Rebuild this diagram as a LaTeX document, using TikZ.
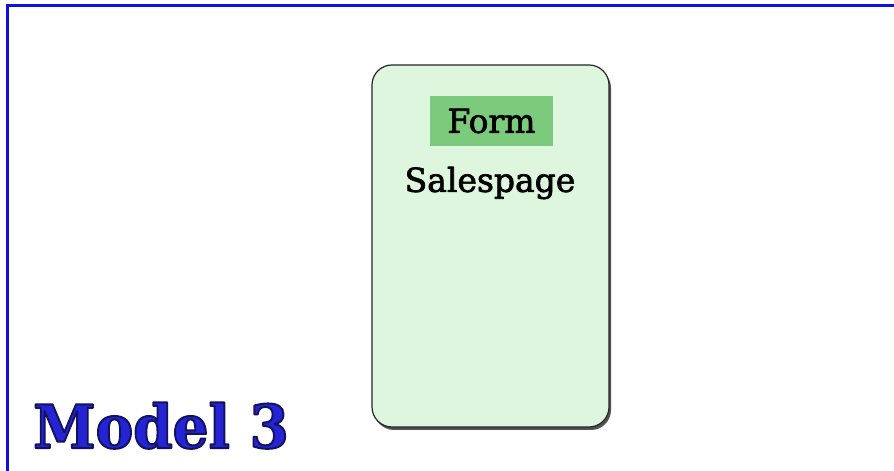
\documentclass[tikz,border=0pt]{standalone}
\usepackage{fontspec}
\setmainfont{DejaVu Serif}
\usetikzlibrary{shadows}
\definecolor{frameblue}{HTML}{1010E0}
\definecolor{cardfill}{HTML}{DDF6DD}
\definecolor{formfill}{HTML}{7CCB7C}
\definecolor{titleblue}{HTML}{2424D4}
\tikzset{
  card/.style={draw=black!85, line width=1.2pt, fill=cardfill, rounded corners=20pt,
    drop shadow={shadow xshift=2pt, shadow yshift=-3pt, fill=black!75, opacity=0.9}},
  formtag/.style={fill=formfill, inner sep=0pt, minimum width=123pt, minimum height=50pt,
    font=\fontsize{33}{36}\selectfont},
  pagelabel/.style={font=\fontsize{33}{36}\selectfont},
  titletext/.style={font=\bfseries\fontsize{60}{64}\selectfont, xscale=0.94,
    anchor=base west, inner sep=0pt, text=titleblue}
}
% fill-and-stroke text rendering for heavier lettering
\newcommand{\cardtext}[1]{%
  \special{pdf:literal direct 2 Tr 0.7 w 1 j 0 0 0 RG}#1\special{pdf:literal direct 0 Tr}}
\newcommand{\titleart}[1]{%
  \special{pdf:literal direct 2 Tr 2 w 1 j 0.07 0.07 0.37 RG}#1\special{pdf:literal direct 0 Tr}}
\begin{document}
\begin{tikzpicture}[x=1pt,y=1pt]
  \useasboundingbox (0,0) rectangle (894,471);
  \fill[white] (0,0) rectangle (894,471);
  % blue frame along the top and left edges
  \fill[frameblue] (6,0) rectangle (9,467);
  \fill[frameblue] (6,464) rectangle (894,467);
  % the page card
  \path[card] (372,44) rectangle (609,406);
  \node[formtag] (form) at (491.5,350) {\cardtext{Form}};
  \node[pagelabel] (sales) at (490,288) {\cardtext{Salespage}};
  % title
  \node[titletext] (model) at (33,23) {\titleart{Model 3}};
\end{tikzpicture}
\end{document}
